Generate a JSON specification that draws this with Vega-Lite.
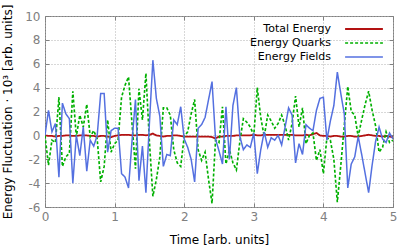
{
  "$schema": "https://vega.github.io/schema/vega-lite/v6.json",
  "width": 348,
  "height": 191,
  "autosize": "none",
  "padding": {"left": 45, "top": 16, "right": 6, "bottom": 43},
  "background": "white",
  "config": {
    "font": "DejaVu Sans",
    "view": {"stroke": "#808080", "strokeWidth": 1},
    "legend": {
      "orient": "none",
      "legendX": 291,
      "legendY": 5,
      "title": null,
      "labelAlign": "right",
      "labelFontSize": 11,
      "labelColor": "#000000",
      "labelFont": "DejaVu Sans",
      "symbolType": "M-2.7,0H2.7",
      "symbolSize": 196,
      "symbolOffset": 20,
      "labelOffset": -41,
      "rowPadding": 1
    }
  },
  "data": {"values": [
    {"t":0,"Total Energy":0,"Energy Quarks":0.0,"Energy Fields":0},
    {"t":0.05,"Total Energy":-0.05,"Energy Quarks":-2.5,"Energy Fields":2.1},
    {"t":0.1,"Total Energy":-0.05,"Energy Quarks":-0.4,"Energy Fields":0.3},
    {"t":0.15,"Total Energy":-0.1,"Energy Quarks":-0.6,"Energy Fields":1.0},
    {"t":0.2,"Total Energy":-0.05,"Energy Quarks":3.2,"Energy Fields":-3.5},
    {"t":0.25,"Total Energy":-0.05,"Energy Quarks":-2.6,"Energy Fields":2.7},
    {"t":0.3,"Total Energy":0,"Energy Quarks":-1.8,"Energy Fields":1.8},
    {"t":0.35,"Total Energy":0,"Energy Quarks":-1.5,"Energy Fields":1.4},
    {"t":0.4,"Total Energy":-0.05,"Energy Quarks":3.7,"Energy Fields":-4.0},
    {"t":0.45,"Total Energy":-0.05,"Energy Quarks":-0.1,"Energy Fields":0.0},
    {"t":0.5,"Total Energy":0,"Energy Quarks":1.7,"Energy Fields":-1.7},
    {"t":0.55,"Total Energy":0,"Energy Quarks":0.7,"Energy Fields":0.7},
    {"t":0.6,"Total Energy":0,"Energy Quarks":2.6,"Energy Fields":-3.0},
    {"t":0.65,"Total Energy":-0.05,"Energy Quarks":-0.1,"Energy Fields":-0.4},
    {"t":0.7,"Total Energy":-0.05,"Energy Quarks":0.4,"Energy Fields":-0.9},
    {"t":0.75,"Total Energy":-0.1,"Energy Quarks":-0.3,"Energy Fields":0.0},
    {"t":0.8,"Total Energy":-0.05,"Energy Quarks":-3.9,"Energy Fields":3.5},
    {"t":0.85,"Total Energy":-0.05,"Energy Quarks":-2.6,"Energy Fields":3.5},
    {"t":0.9,"Total Energy":-0.1,"Energy Quarks":1.3,"Energy Fields":-1.4},
    {"t":0.95,"Total Energy":-0.15,"Energy Quarks":-1.4,"Energy Fields":0.4},
    {"t":1.0,"Total Energy":-0.05,"Energy Quarks":-0.7,"Energy Fields":0.6},
    {"t":1.05,"Total Energy":0,"Energy Quarks":-0.4,"Energy Fields":0.6},
    {"t":1.1,"Total Energy":0.05,"Energy Quarks":3.2,"Energy Fields":-3.2},
    {"t":1.15,"Total Energy":0.05,"Energy Quarks":4.2,"Energy Fields":-3.5},
    {"t":1.2,"Total Energy":0.05,"Energy Quarks":4.9,"Energy Fields":-4.4},
    {"t":1.25,"Total Energy":0,"Energy Quarks":1.0,"Energy Fields":-0.5},
    {"t":1.3,"Total Energy":0,"Energy Quarks":-2.8,"Energy Fields":3.0},
    {"t":1.35,"Total Energy":0.05,"Energy Quarks":3.9,"Energy Fields":-3.8},
    {"t":1.4,"Total Energy":0.05,"Energy Quarks":1.3,"Energy Fields":-0.9},
    {"t":1.45,"Total Energy":0,"Energy Quarks":5.2,"Energy Fields":-4.8},
    {"t":1.5,"Total Energy":0.05,"Energy Quarks":-0.5,"Energy Fields":1.0},
    {"t":1.55,"Total Energy":0.15,"Energy Quarks":-5.1,"Energy Fields":6.3},
    {"t":1.6,"Total Energy":0,"Energy Quarks":-3.7,"Energy Fields":3.1},
    {"t":1.65,"Total Energy":-0.05,"Energy Quarks":-1.8,"Energy Fields":1.6},
    {"t":1.7,"Total Energy":-0.1,"Energy Quarks":2.3,"Energy Fields":-2.6},
    {"t":1.75,"Total Energy":-0.05,"Energy Quarks":2.3,"Energy Fields":-1.6},
    {"t":1.8,"Total Energy":-0.05,"Energy Quarks":1.7,"Energy Fields":-1.7},
    {"t":1.85,"Total Energy":0,"Energy Quarks":-1.2,"Energy Fields":1.3},
    {"t":1.9,"Total Energy":0,"Energy Quarks":-2.3,"Energy Fields":0.9},
    {"t":1.95,"Total Energy":-0.05,"Energy Quarks":-2.6,"Energy Fields":2.4},
    {"t":2.0,"Total Energy":-0.1,"Energy Quarks":-0.1,"Energy Fields":-0.3},
    {"t":2.05,"Total Energy":-0.1,"Energy Quarks":0.3,"Energy Fields":-1.0},
    {"t":2.1,"Total Energy":-0.1,"Energy Quarks":1.8,"Energy Fields":-2.0},
    {"t":2.15,"Total Energy":-0.1,"Energy Quarks":3.0,"Energy Fields":-3.9},
    {"t":2.2,"Total Energy":-0.1,"Energy Quarks":-1.2,"Energy Fields":0.6},
    {"t":2.25,"Total Energy":-0.1,"Energy Quarks":-2.1,"Energy Fields":0.9},
    {"t":2.3,"Total Energy":-0.1,"Energy Quarks":-1.4,"Energy Fields":1.5},
    {"t":2.35,"Total Energy":-0.1,"Energy Quarks":-3.7,"Energy Fields":3.0},
    {"t":2.4,"Total Energy":-0.15,"Energy Quarks":-5.7,"Energy Fields":4.5},
    {"t":2.45,"Total Energy":-0.25,"Energy Quarks":-0.4,"Energy Fields":-0.3},
    {"t":2.5,"Total Energy":-0.1,"Energy Quarks":-0.6,"Energy Fields":-1.3},
    {"t":2.55,"Total Energy":-0.1,"Energy Quarks":2.4,"Energy Fields":-2.4},
    {"t":2.6,"Total Energy":-0.05,"Energy Quarks":-2.4,"Energy Fields":2.4},
    {"t":2.65,"Total Energy":-0.05,"Energy Quarks":-1.2,"Energy Fields":-2.0},
    {"t":2.7,"Total Energy":-0.05,"Energy Quarks":-2.3,"Energy Fields":2.5},
    {"t":2.75,"Total Energy":0,"Energy Quarks":-2.9,"Energy Fields":4.0},
    {"t":2.8,"Total Energy":0,"Energy Quarks":-0.5,"Energy Fields":-0.1},
    {"t":2.85,"Total Energy":0,"Energy Quarks":1.4,"Energy Fields":-1.2},
    {"t":2.9,"Total Energy":0,"Energy Quarks":1.1,"Energy Fields":-0.8},
    {"t":2.95,"Total Energy":0,"Energy Quarks":0.7,"Energy Fields":-1.0},
    {"t":3.0,"Total Energy":0.05,"Energy Quarks":0.0,"Energy Fields":0.2},
    {"t":3.05,"Total Energy":0,"Energy Quarks":4.0,"Energy Fields":-3.2},
    {"t":3.1,"Total Energy":0,"Energy Quarks":1.5,"Energy Fields":-1.2},
    {"t":3.15,"Total Energy":0.05,"Energy Quarks":-0.1,"Energy Fields":0.3},
    {"t":3.2,"Total Energy":0.05,"Energy Quarks":1.7,"Energy Fields":-1.0},
    {"t":3.25,"Total Energy":0.05,"Energy Quarks":1.2,"Energy Fields":-0.2},
    {"t":3.3,"Total Energy":0.05,"Energy Quarks":0.6,"Energy Fields":-0.4},
    {"t":3.35,"Total Energy":0.05,"Energy Quarks":1.0,"Energy Fields":0.0},
    {"t":3.4,"Total Energy":0.05,"Energy Quarks":1.7,"Energy Fields":-0.8},
    {"t":3.45,"Total Energy":0.05,"Energy Quarks":0.8,"Energy Fields":0.7},
    {"t":3.5,"Total Energy":0.05,"Energy Quarks":-0.4,"Energy Fields":2.3},
    {"t":3.55,"Total Energy":0.05,"Energy Quarks":1.0,"Energy Fields":1.7},
    {"t":3.6,"Total Energy":0,"Energy Quarks":3.3,"Energy Fields":-2.3},
    {"t":3.65,"Total Energy":0,"Energy Quarks":0.7,"Energy Fields":-0.7},
    {"t":3.7,"Total Energy":0,"Energy Quarks":2.3,"Energy Fields":-1.6},
    {"t":3.75,"Total Energy":0.05,"Energy Quarks":-0.7,"Energy Fields":0.9},
    {"t":3.8,"Total Energy":0,"Energy Quarks":0.0,"Energy Fields":0.6},
    {"t":3.85,"Total Energy":0.1,"Energy Quarks":0.2,"Energy Fields":0.4},
    {"t":3.9,"Total Energy":0.2,"Energy Quarks":-2.1,"Energy Fields":2.1},
    {"t":3.95,"Total Energy":0,"Energy Quarks":-1.2,"Energy Fields":3.1},
    {"t":4.0,"Total Energy":-0.05,"Energy Quarks":-3.2,"Energy Fields":3.2},
    {"t":4.05,"Total Energy":-0.05,"Energy Quarks":-0.2,"Energy Fields":-0.4},
    {"t":4.1,"Total Energy":-0.1,"Energy Quarks":-0.4,"Energy Fields":1.2},
    {"t":4.15,"Total Energy":-0.05,"Energy Quarks":-2.0,"Energy Fields":2.5},
    {"t":4.2,"Total Energy":-0.05,"Energy Quarks":-5.6,"Energy Fields":5.3},
    {"t":4.25,"Total Energy":-0.1,"Energy Quarks":-2.5,"Energy Fields":3.5},
    {"t":4.3,"Total Energy":-0.1,"Energy Quarks":0.8,"Energy Fields":1.8},
    {"t":4.35,"Total Energy":-0.05,"Energy Quarks":4.1,"Energy Fields":-4.4},
    {"t":4.4,"Total Energy":-0.05,"Energy Quarks":2.0,"Energy Fields":-2.4},
    {"t":4.45,"Total Energy":-0.1,"Energy Quarks":1.7,"Energy Fields":-1.8},
    {"t":4.5,"Total Energy":-0.1,"Energy Quarks":-0.1,"Energy Fields":-0.1},
    {"t":4.55,"Total Energy":-0.05,"Energy Quarks":1.3,"Energy Fields":-1.6},
    {"t":4.6,"Total Energy":0,"Energy Quarks":2.6,"Energy Fields":-3.2},
    {"t":4.65,"Total Energy":0.05,"Energy Quarks":3.7,"Energy Fields":-4.8},
    {"t":4.7,"Total Energy":0,"Energy Quarks":2.1,"Energy Fields":-2.5},
    {"t":4.75,"Total Energy":-0.05,"Energy Quarks":0.8,"Energy Fields":-0.5},
    {"t":4.8,"Total Energy":-0.05,"Energy Quarks":-1.4,"Energy Fields":0.7},
    {"t":4.85,"Total Energy":-0.1,"Energy Quarks":-1.0,"Energy Fields":-0.3},
    {"t":4.9,"Total Energy":-0.05,"Energy Quarks":0.3,"Energy Fields":-0.6},
    {"t":4.95,"Total Energy":-0.1,"Energy Quarks":-0.6,"Energy Fields":0.2},
    {"t":5.0,"Total Energy":-0.15,"Energy Quarks":-0.4,"Energy Fields":-0.3}
  ]},
  "transform": [{"fold": ["Total Energy", "Energy Quarks", "Energy Fields"], "as": ["series", "v"]}],
  "resolve": {"axis": {"x": "independent", "y": "independent"}},
  "layer": [
    {
      "mark": {"type": "line", "clip": true},
      "encoding": {
        "x": {"field": "t", "type": "quantitative",
          "scale": {"domain": [0, 5], "nice": false},
          "axis": {"orient": "bottom", "values": [0,1,2,3,4,5], "grid": true, "gridColor": "#b0b0b0", "gridDash": [1,2], "gridWidth": 1,
            "domain": false, "tickSize": -4, "tickColor": "#808080", "labelPadding": 8, "labelFlush": false, "labelColor": "#808080", "labelFontSize": 12, "labelFont": "DejaVu Sans",
            "title": "Time [arb. units]", "titleFontSize": 12, "titleFontWeight": "normal", "titleFont": "DejaVu Sans", "titleColor": "#000000", "titlePadding": 12}},
        "y": {"field": "v", "type": "quantitative",
          "scale": {"domain": [-6, 10], "nice": false},
          "axis": {"orient": "left", "values": [-6,-4,-2,0,2,4,6,8,10], "grid": true, "gridColor": "#b0b0b0", "gridDash": [1,2], "gridWidth": 1,
            "domain": false, "tickSize": -4, "tickColor": "#808080", "labelPadding": 9, "labelFlush": false, "labelColor": "#808080", "labelFontSize": 12, "labelFont": "DejaVu Sans",
            "labelExpr": "'' + datum.value",
            "title": "Energy Fluctuation · 10³ [arb. units]", "titleFontSize": 12, "titleFontWeight": "normal", "titleFont": "DejaVu Sans", "titleColor": "#000000", "titlePadding": 10}},
        "color": {"field": "series", "type": "nominal",
          "scale": {"domain": ["Total Energy", "Energy Quarks", "Energy Fields"], "range": ["#b31212", "#00b000", "#5470e0"]},
          "legend": {"title": null}},
        "strokeDash": {"field": "series", "type": "nominal",
          "scale": {"domain": ["Total Energy", "Energy Quarks", "Energy Fields"], "range": [[1,0], [3,2], [1,0]]},
          "legend": {"title": null}},
        "strokeWidth": {"field": "series", "type": "nominal",
          "scale": {"domain": ["Total Energy", "Energy Quarks", "Energy Fields"], "range": [1.8, 1.5, 1.2]},
          "legend": {"title": null}}
      }
    },
    {
      "mark": {"type": "line", "opacity": 0},
      "encoding": {
        "x": {"field": "t", "type": "quantitative",
          "scale": {"domain": [0, 5], "nice": false},
          "axis": {"orient": "top", "values": [0,1,2,3,4,5], "grid": false, "domain": false, "labels": false, "tickSize": -4, "tickColor": "#808080", "title": null}},
        "y": {"field": "v", "type": "quantitative",
          "scale": {"domain": [-6, 10], "nice": false},
          "axis": {"orient": "right", "values": [-6,-4,-2,0,2,4,6,8,10], "grid": false, "domain": false, "labels": false, "tickSize": -4, "tickColor": "#808080", "title": null}}
      }
    }
  ]
}
